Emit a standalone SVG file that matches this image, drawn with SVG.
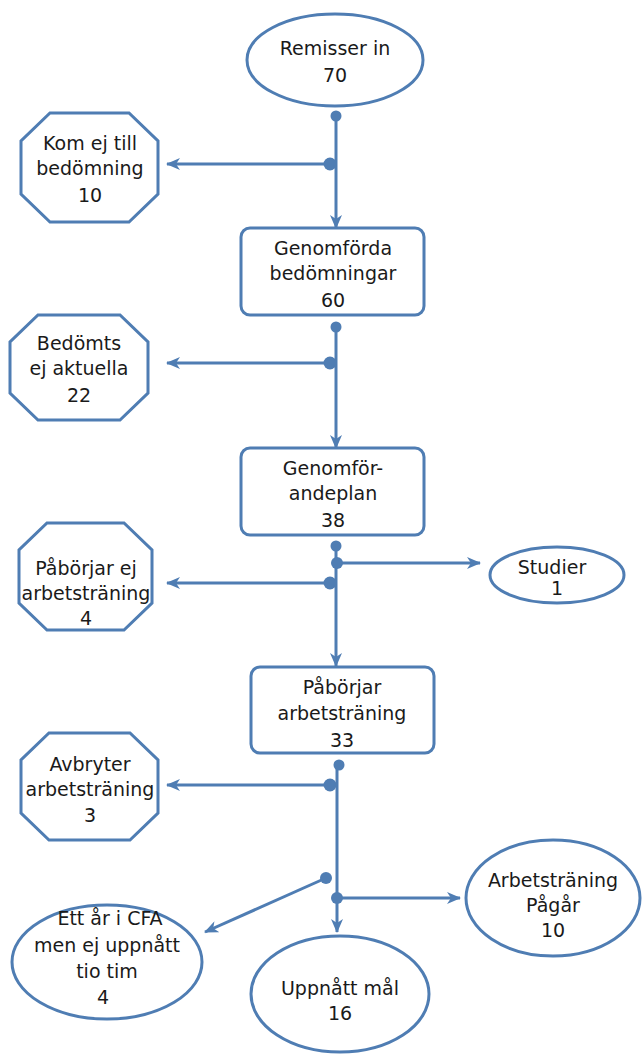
<svg xmlns="http://www.w3.org/2000/svg" width="642" height="1054" viewBox="0 0 642 1054">
<defs>
<style>
.n{fill:#ffffff;stroke:#4f7db3;stroke-width:3}
.t{font-family:"DejaVu Sans",Verdana,sans-serif;font-size:19px;fill:#1a1a1a;text-anchor:middle}
.c{stroke:#4f7db3;stroke-width:3;fill:none}
.d{fill:#4f7db3}
</style>
<marker id="ah" markerUnits="userSpaceOnUse" markerWidth="14" markerHeight="12" refX="13" refY="6" orient="auto">
<path d="M0,0 L14,6 L0,12 L4,6 z" fill="#4f7db3"/>
</marker>
</defs>
<rect width="642" height="1054" fill="#ffffff"/>
<g id="connectors">
<line class="c" x1="336" y1="116" x2="336" y2="228" marker-end="url(#ah)"/>
<line class="c" x1="330" y1="164" x2="167" y2="164" marker-end="url(#ah)"/>
<line class="c" x1="336" y1="327" x2="336" y2="448" marker-end="url(#ah)"/>
<line class="c" x1="330" y1="363" x2="167" y2="363" marker-end="url(#ah)"/>
<line class="c" x1="336" y1="546" x2="336" y2="666" marker-end="url(#ah)"/>
<line class="c" x1="337" y1="563" x2="480" y2="563" marker-end="url(#ah)"/>
<line class="c" x1="330" y1="583" x2="167" y2="583" marker-end="url(#ah)"/>
<line class="c" x1="337" y1="765" x2="337" y2="932" marker-end="url(#ah)"/>
<line class="c" x1="330" y1="785" x2="167" y2="785" marker-end="url(#ah)"/>
<line class="c" x1="326" y1="878" x2="205" y2="932" marker-end="url(#ah)"/>
<line class="c" x1="337" y1="898" x2="460" y2="898" marker-end="url(#ah)"/>
<circle class="d" cx="336" cy="116" r="5.5"/>
<circle class="d" cx="330" cy="164" r="6.5"/>
<circle class="d" cx="336" cy="327" r="5.5"/>
<circle class="d" cx="330" cy="363" r="6.5"/>
<circle class="d" cx="336" cy="546" r="5.5"/>
<circle class="d" cx="337" cy="563" r="6"/>
<circle class="d" cx="330" cy="583" r="6.5"/>
<circle class="d" cx="339" cy="765" r="5.5"/>
<circle class="d" cx="330" cy="785" r="6.5"/>
<circle class="d" cx="326" cy="878" r="6"/>
<circle class="d" cx="337" cy="898" r="6"/>
</g>
<g id="remisser">
<ellipse class="n" cx="335" cy="60" rx="88" ry="46"/>
<text class="t" x="335" y="55">Remisser in</text>
<text class="t" x="335" y="82">70</text>
</g>
<g id="kom-ej">
<polygon class="n" points="50,113 129,113 158,141 158,194 129,222 50,222 21,194 21,141"/>
<text class="t" x="90" y="150">Kom ej till</text>
<text class="t" x="90" y="175">bedömning</text>
<text class="t" x="90" y="202">10</text>
</g>
<g id="genomforda">
<rect class="n" x="241" y="228" width="183" height="87" rx="9"/>
<text class="t" x="333" y="255">Genomförda</text>
<text class="t" x="333" y="280">bedömningar</text>
<text class="t" x="333" y="307">60</text>
</g>
<g id="bedomts">
<polygon class="n" points="38,315 120,315 148,342 148,393 120,420 38,420 10,393 10,342"/>
<text class="t" x="79" y="350">Bedömts</text>
<text class="t" x="79" y="375">ej aktuella</text>
<text class="t" x="79" y="402">22</text>
</g>
<g id="genomforandeplan">
<rect class="n" x="241" y="448" width="183" height="87" rx="9"/>
<text class="t" x="333" y="475">Genomför-</text>
<text class="t" x="333" y="500">andeplan</text>
<text class="t" x="333" y="527">38</text>
</g>
<g id="studier">
<ellipse class="n" cx="557" cy="575" rx="67" ry="28"/>
<text class="t" x="552" y="574">Studier</text>
<text class="t" x="557" y="595">1</text>
</g>
<g id="paborjar-ej">
<polygon class="n" points="47,523 124,523 152,550 152,603 124,630 47,630 19,603 19,550"/>
<text class="t" x="86" y="575">Påbörjar ej</text>
<text class="t" x="86" y="600">arbetsträning</text>
<text class="t" x="86" y="625">4</text>
</g>
<g id="paborjar">
<rect class="n" x="251" y="667" width="183" height="86" rx="9"/>
<text class="t" x="342" y="694">Påbörjar</text>
<text class="t" x="342" y="720">arbetsträning</text>
<text class="t" x="342" y="747">33</text>
</g>
<g id="avbryter">
<polygon class="n" points="49,733 130,733 158,760 158,813 130,840 49,840 21,813 21,760"/>
<text class="t" x="90" y="771">Avbryter</text>
<text class="t" x="90" y="796">arbetsträning</text>
<text class="t" x="90" y="822">3</text>
</g>
<g id="ett-ar">
<ellipse class="n" cx="107" cy="962" rx="95" ry="57"/>
<text class="t" x="110" y="925">Ett år i CFA</text>
<text class="t" x="107" y="952">men ej uppnått</text>
<text class="t" x="107" y="978">tio tim</text>
<text class="t" x="103" y="1004">4</text>
</g>
<g id="pagar">
<ellipse class="n" cx="553" cy="898" rx="87" ry="58"/>
<text class="t" x="553" y="887">Arbetsträning</text>
<text class="t" x="553" y="912">Pågår</text>
<text class="t" x="553" y="937">10</text>
</g>
<g id="uppnatt">
<ellipse class="n" cx="340" cy="994" rx="89" ry="58"/>
<text class="t" x="340" y="995">Uppnått mål</text>
<text class="t" x="340" y="1020">16</text>
</g>
</svg>
